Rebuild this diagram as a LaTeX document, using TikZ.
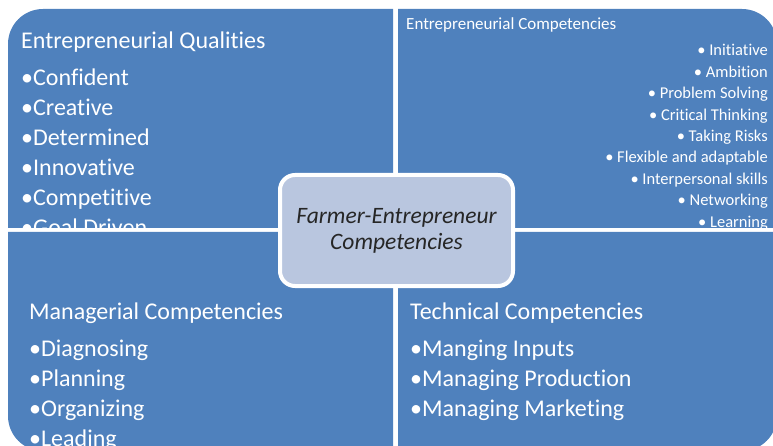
\documentclass[tikz,border=0pt]{standalone}
\usepackage{fontspec}
\setmainfont{Carlito}[Ligatures=NoCommon]
\usetikzlibrary{positioning}

\definecolor{quadblue}{RGB}{79,129,189}
\definecolor{hubfill}{RGB}{185,198,223}
\definecolor{hubtext}{RGB}{38,38,38}

\begin{document}
\begin{tikzpicture}[
	x = 1pt, y = 1pt,
	quad/.style = {fill=quadblue},
	head/.style = {text=white, inner sep=0pt, anchor=base west, font=\fontsize{24}{28}\selectfont},
	item/.style = {head},
	small head/.style = {head, font=\fontsize{17}{20}\selectfont},
	small item/.style = {head, anchor=base east, font=\fontsize{16.5}{20}\selectfont},
	hub/.style = {draw=white, line width=4pt, fill=hubfill, rounded corners=15pt,
		minimum width=233pt, minimum height=111pt, align=center, text=hubtext,
		font=\itshape\fontsize{23.5}{26}\selectfont}
	]
	\useasboundingbox (0,0) rectangle (773,-446);

	% entrepreneurial qualities
	\begin{scope}
		\fill[quad] (8,-228) -- (8,-44) arc[start angle=180, end angle=90, radius=35]
			-- (393,-9) -- (393,-228) -- cycle;
		\clip (8,-228) -- (8,-44) arc[start angle=180, end angle=90, radius=35]
			-- (393,-9) -- (393,-228) -- cycle;
		\node[head] (qualHead) at (21,-49) {Entrepreneurial Qualities};
		\foreach \txt [count=\i] in {Confident, Creative, Determined, Innovative, Competitive, Goal Driven}
			\node[item] (qual\i) at (21,{-86-30*(\i-1)}) {•\txt};
	\end{scope}

	% entrepreneurial competencies
	\begin{scope}
		\fill[quad] (398,-228) -- (398,-9) -- (742,-9) arc[start angle=90, end angle=0, radius=35]
			-- (777,-228) -- cycle;
		\clip (398,-228) -- (398,-9) -- (742,-9) arc[start angle=90, end angle=0, radius=35]
			-- (777,-228) -- cycle;
		\node[small head] (compHead) at (406,-30) {Entrepreneurial Competencies};
		\foreach \txt [count=\i] in {Initiative, Ambition, Problem Solving, Critical Thinking, Taking Risks,
			Flexible and adaptable, Interpersonal skills, Networking, Learning}
			\node[small item] (comp\i) at (768,{-56-21.4*(\i-1)}) {• \txt};
	\end{scope}

	% managerial competencies
	\begin{scope}
		\fill[quad] (8,-232) -- (393,-232) -- (393,-451) -- (43,-451)
			arc[start angle=270, end angle=180, radius=35] -- cycle;
		\clip (8,-232) -- (393,-232) -- (393,-451) -- (43,-451)
			arc[start angle=270, end angle=180, radius=35] -- cycle;
		\node[head] (manHead) at (29,-319) {Managerial Competencies};
		\foreach \txt [count=\i] in {Diagnosing, Planning, Organizing, Leading}
			\node[item] (man\i) at (29,{-356-30*(\i-1)}) {•\txt};
	\end{scope}

	% technical competencies
	\begin{scope}
		\fill[quad] (398,-232) -- (777,-232) -- (777,-416)
			arc[start angle=0, end angle=-90, radius=35] -- (398,-451) -- cycle;
		\clip (398,-232) -- (777,-232) -- (777,-416)
			arc[start angle=0, end angle=-90, radius=35] -- (398,-451) -- cycle;
		\node[head] (techHead) at (410,-319) {Technical Competencies};
		\foreach \txt [count=\i] in {Manging Inputs, Managing Production, Managing Marketing}
			\node[item] (tech\i) at (410,{-356-30*(\i-1)}) {•\txt};
	\end{scope}

	\node[hub] (hub) at (396.5,-230.5) {Farmer-Entrepreneur\\Competencies};
\end{tikzpicture}
\end{document}
